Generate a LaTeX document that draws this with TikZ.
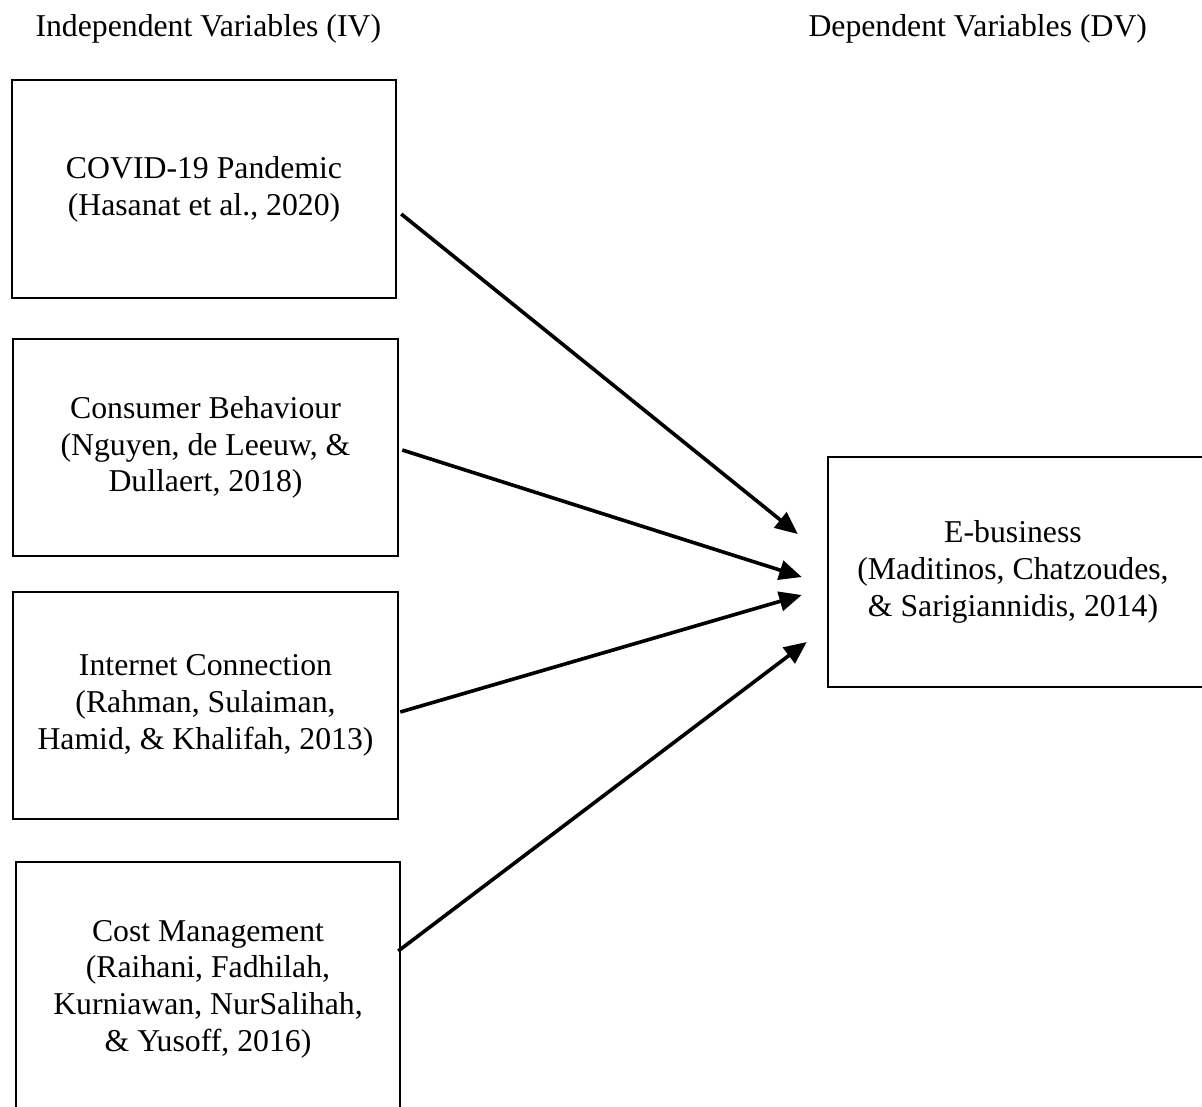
\documentclass[tikz,border=0pt]{standalone}
\usepackage{fontspec}
\setmainfont{Liberation Serif}
\usetikzlibrary{arrows.meta}
\begin{document}
\begin{tikzpicture}[x=0.4pt,y=-0.4pt,
  textfont/.style={font=\fontsize{12.7}{14.7}\selectfont},
  varbox/.style={draw, line width=1pt, rectangle, align=center, inner sep=0pt, textfont},
  heading/.style={anchor=base west, inner sep=0pt, textfont},
  link/.style={line width=1.45pt, -{Triangle[length=9pt,width=7.8pt]}}]
\useasboundingbox (0,0) rectangle (1202,1107);
\clip (0,0) rectangle (1202,1107);

% column headings
\node[heading] (ivhead) at (35,36) {Independent Variables (IV)};
\node[heading] (dvhead) at (808,36) {Dependent Variables (DV)};

% independent variables
\node[varbox, minimum width=153.6pt, minimum height=87.2pt] (covid) at (204,189)
  {COVID-19 Pandemic\\(Hasanat et al., 2020)};
\node[varbox, minimum width=154pt, minimum height=86.8pt] (consumer) at (205.5,447.5)
  {Consumer Behaviour\\(Nguyen, de Leeuw, \&\\Dullaert, 2018)};
\node[varbox, minimum width=154pt, minimum height=90.8pt] (internet) at (205.5,705.5)
  {Internet Connection\\(Rahman, Sulaiman,\\Hamid, \& Khalifah, 2013)};
\node[varbox, minimum width=153.6pt, minimum height=101.6pt] (cost) at (208,989)
  {Cost Management\\(Raihani, Fadhilah,\\Kurniawan, NurSalihah,\\\& Yusoff, 2016)};

% dependent variable
\node[varbox, minimum width=156.8pt, minimum height=92pt] (ebox) at (1024,572) {};
\node[align=center, inner sep=0pt, textfont] (etext) at (1013,572)
  {E-business\\(Maditinos, Chatzoudes,\\\& Sarigiannidis, 2014)};

% arrow end points
\coordinate (s1) at ([shift={(4,25)}]covid.east);
\coordinate (s2) at ([shift={(3,2.5)}]consumer.east);
\coordinate (s3) at ([shift={(1,6.5)}]internet.east);
\coordinate (s4) at ([shift={(-3,-38)}]cost.east);
\coordinate (t1) at ([shift={(-29,-38)}]ebox.west);
\coordinate (t2) at ([shift={(-25,5)}]ebox.west);
\coordinate (t3) at ([shift={(-25,23)}]ebox.west);
\coordinate (t4) at ([shift={(-20,70)}]ebox.west);

\draw[link] (s1) -- (t1);
\draw[link] (s2) -- (t2);
\draw[link] (s3) -- (t3);
\draw[link] (s4) -- (t4);
\end{tikzpicture}
\end{document}
